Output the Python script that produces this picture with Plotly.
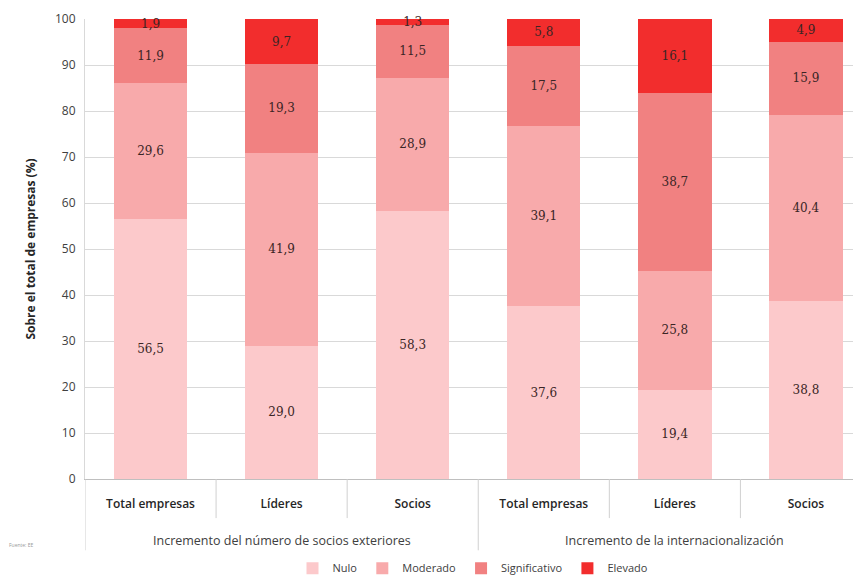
import plotly.graph_objects as go

# DATA
categories = ["Total empresas", "Líderes", "Socios", "Total empresas", "Líderes", "Socios"]
groups = ["Incremento del número de socios exteriores", "Incremento de la internacionalización"]
nulo = [56.5, 29.0, 58.3, 37.6, 19.4, 38.8]
moderado = [29.6, 41.9, 28.9, 39.1, 25.8, 40.4]
significativo = [11.9, 19.3, 11.5, 17.5, 38.7, 15.9]
elevado = [1.9, 9.7, 1.3, 5.8, 16.1, 4.9]

series = [
    ("Nulo", nulo, "#FCC9CB"),
    ("Moderado", moderado, "#F8AAAB"),
    ("Significativo", significativo, "#F18181"),
    ("Elevado", elevado, "#F22D2D"),
]

xpos = list(range(len(categories)))

fig = go.Figure()
for name, vals, color in series:
    fig.add_trace(go.Bar(
        x=xpos, y=vals, name=name,
        marker=dict(color=color, line=dict(width=0)),
        texttemplate="%{y:.1f}",
        textposition="inside",
        insidetextanchor="middle",
        constraintext="none",
        cliponaxis=False,
        textfont=dict(family="DejaVu Serif", size=12, color="#3a2525"),
    ))

# DIVIDERS on the category axis
divider_shapes = []
for b in [-0.5, 0.5, 1.5, 2.5, 3.5, 4.5]:
    long = b in (-0.5, 2.5)
    divider_shapes.append(dict(
        type="line", xref="x", yref="paper",
        x0=b, x1=b, y0=0, y1=-0.155 if long else -0.085,
        line=dict(color="#d0d0d0", width=1),
    ))

# GROUP LABELS
annots = []
for i, g in enumerate(groups):
    annots.append(dict(
        text=g, xref="x", yref="paper", x=1 + 3 * i, y=-0.133,
        showarrow=False, xanchor="center", yanchor="middle",
        font=dict(family="Open Sans", size=12.5, color="#404040"),
    ))
annots.append(dict(
    text="Fuente: EE", xref="paper", yref="paper", x=-0.1, y=-0.155,
    showarrow=False, xanchor="left", font=dict(size=5, color="#999999"),
))

# page body adds an 8px offset, so the figure is 8px smaller and margins shifted
fig.update_layout(
    barmode="stack",
    bargap=0.44,
    width=853, height=571,
    margin=dict(l=77, r=0, t=11, b=100, autoexpand=False),
    plot_bgcolor="white",
    paper_bgcolor="white",
    separators=",.",
    font=dict(family="Open Sans", color="#404040"),
    shapes=divider_shapes,
    annotations=annots,
    legend=dict(
        orientation="h", x=0.5, xanchor="center",
        yref="container", y=0.019, yanchor="middle",
        font=dict(size=11, color="#404040"), traceorder="normal",
        itemwidth=30, tracegroupgap=0,
    ),
    xaxis=dict(
        tickvals=xpos, ticktext=categories,
        range=[-0.5, 5.42],
        showgrid=False, ticks="",
        automargin=False,
        ticklabelstandoff=14,
        tickfont=dict(family="Open Sans", size=12, color="#262626", weight=600),
        showline=True, linecolor="#bfbfbf", linewidth=1,
    ),
    yaxis=dict(
        range=[0, 100], dtick=10,
        showgrid=True, gridcolor="#d9d9d9", gridwidth=1,
        zeroline=False,
        automargin=False,
        showline=True, linecolor="#d9d9d9",
        tickfont=dict(family="Open Sans", size=12, color="#404040"),
        ticklabelstandoff=6,
        title=dict(text="<b>Sobre el total de empresas (%)</b>",
                   font=dict(family="Open Sans", size=12, color="#262626"),
                   standoff=16),
    ),
)

fig.write_html("out.html")
